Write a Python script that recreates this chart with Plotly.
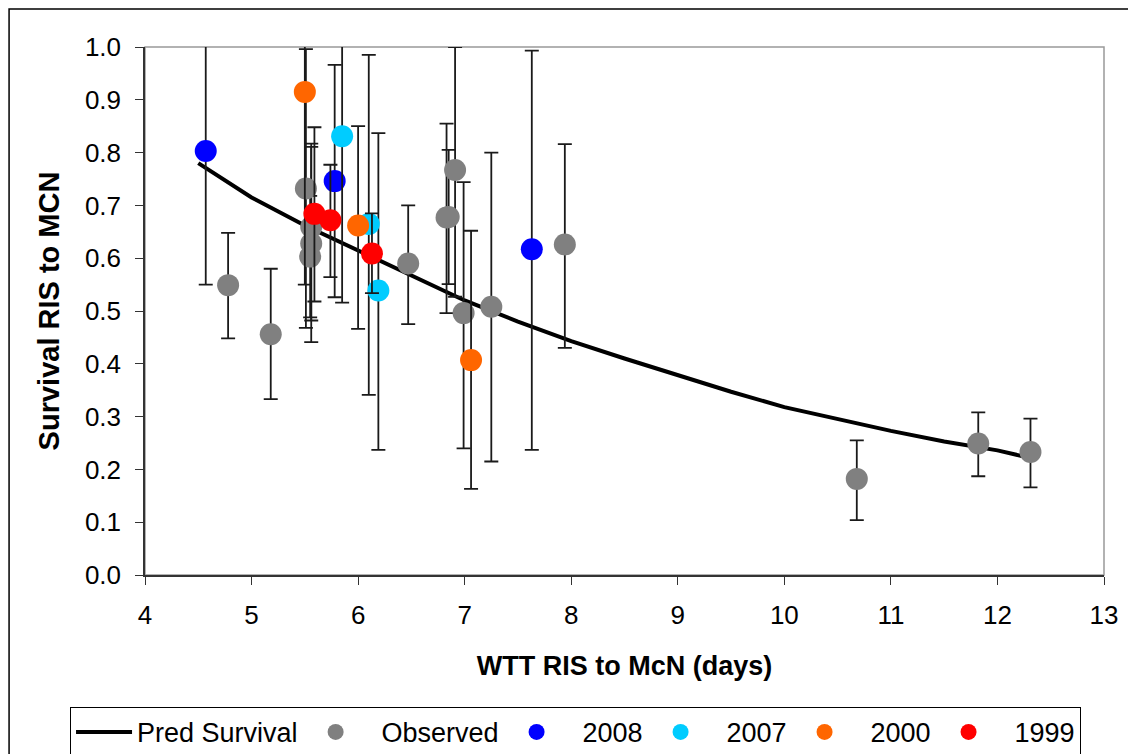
import plotly.graph_objects as go

# ---------------- data ----------------
pred_x = [4.5, 5.0, 5.5, 6.0, 6.5, 7.0, 7.5, 8.0, 8.5, 9.0, 9.5, 10.0, 10.5, 11.0, 11.5, 12.0, 12.3]
pred_y = [0.780, 0.715, 0.662, 0.614, 0.566, 0.520, 0.480, 0.443, 0.410, 0.378, 0.347, 0.318, 0.295, 0.273, 0.253, 0.236, 0.222]

obs_x = [4.78, 5.18, 5.51, 5.56, 5.56, 5.55, 6.47, 6.83, 6.85, 6.91, 6.99, 7.25, 7.94, 10.68, 11.82, 12.31]
obs_y = [0.549, 0.456, 0.732, 0.659, 0.628, 0.603, 0.590, 0.677, 0.678, 0.767, 0.496, 0.508, 0.626, 0.182, 0.249, 0.233]
obs_ep = [0.099, 0.124, 0.264, 0.158, 0.183, 0.115, 0.110, 0.178, 0.127, 0.233, 0.248, 0.292, 0.190, 0.073, 0.059, 0.063]
obs_em = [0.101, 0.123, 0.264, 0.177, 0.187, 0.115, 0.115, 0.181, 0.127, 0.240, 0.256, 0.293, 0.196, 0.078, 0.062, 0.067]

y2008_x = [4.57, 5.78, 7.63]
y2008_y = [0.803, 0.746, 0.617]
y2008_ep = [0.300, 0.220, 0.376]
y2008_em = [0.253, 0.220, 0.380]

y2007_x = [5.85, 6.10, 6.19]
y2007_y = [0.831, 0.665, 0.539]
y2007_ep = [0.250, 0.320, 0.298]
y2007_em = [0.315, 0.324, 0.302]

y2000_x = [5.50, 6.00, 7.06]
y2000_y = [0.915, 0.662, 0.407]
y2000_ep = [0.365, 0.188, 0.245]
y2000_em = [0.365, 0.196, 0.244]

y1999_x = [5.59, 5.74, 6.13]
y1999_y = [0.684, 0.672, 0.609]
y1999_ep = [0.164, 0.105, 0.076]
y1999_em = [0.166, 0.108, 0.075]

x_ticks = [4, 5, 6, 7, 8, 9, 10, 11, 12, 13]
y_ticks = [0.0, 0.1, 0.2, 0.3, 0.4, 0.5, 0.6, 0.7, 0.8, 0.9, 1.0]

FONT = "Liberation Sans, Arial, sans-serif"
ERR_COLOR = "#1a1a1a"
MSIZE = 22
PAD = "\u00a0\u2009"

def err(plus, minus):
    return dict(type="data", symmetric=False, array=plus, arrayminus=minus,
                color=ERR_COLOR, thickness=1.8, width=7)

fig = go.Figure()
fig.add_trace(go.Scatter(x=pred_x, y=pred_y, mode="lines", name="Pred Survival",
                         line=dict(color="black", width=4)))
fig.add_trace(go.Scatter(x=obs_x, y=obs_y, mode="markers", name=PAD + "Observed",
                         marker=dict(color="#808080", size=MSIZE),
                         error_y=err(obs_ep, obs_em)))
for name, xs, ys, ep, em, col in [
    ("2008", y2008_x, y2008_y, y2008_ep, y2008_em, "#0000FF"),
    ("2007", y2007_x, y2007_y, y2007_ep, y2007_em, "#00CCFF"),
    ("2000", y2000_x, y2000_y, y2000_ep, y2000_em, "#FF6600"),
    ("1999", y1999_x, y1999_y, y1999_ep, y1999_em, "#FF0000"),
]:
    fig.add_trace(go.Scatter(x=xs, y=ys, mode="markers", name=PAD + name,
                             marker=dict(color=col, size=MSIZE),
                             error_y=err(ep, em)))

L, R, T, B = 145, 23.5, 46.5, 179
W, H = 1128, 754
pw = W - L - R
ph = H - T - B

def px2paper_x(px):
    return (px - L) / pw

def px2paper_y(py):
    return (H - B - py) / ph

fig.update_layout(
    width=W, height=H,
    margin=dict(l=L, r=R, t=T, b=B, pad=0, autoexpand=False),
    paper_bgcolor="white", plot_bgcolor="white",
    font=dict(family=FONT, color="black"),
    showlegend=True,
    legend=dict(orientation="h", x=px2paper_x(70), xanchor="left",
                y=px2paper_y(707), yanchor="top",
                bordercolor="black", borderwidth=1, bgcolor="white",
                font=dict(family=FONT, size=27, color="black"),
                itemwidth=56, tracegroupgap=0),
    xaxis=dict(range=[4, 13], tickvals=x_ticks, ticks="outside", ticklen=8,
               tickcolor="#333", tickwidth=1, showline=True, linecolor="#333", linewidth=1.5,
               showgrid=False, zeroline=False, automargin=False,
               ticklabelstandoff=8,
               tickfont=dict(size=26, family=FONT),
               title=dict(text="<b>WTT RIS to McN (days)</b>", font=dict(size=27, family=FONT),
                          standoff=27)),
    yaxis=dict(range=[0, 1], tickvals=y_ticks, tickformat=".1f", ticks="outside", ticklen=8,
               tickcolor="#333", tickwidth=1, showline=True, linecolor="#333", linewidth=1.5,
               showgrid=False, zeroline=False, automargin=False,
               ticklabelstandoff=9,
               tickfont=dict(size=26, family=FONT),
               title=dict(text="<b>Survival RIS to MCN</b>", font=dict(size=29, family=FONT),
                          standoff=17)),
    shapes=[
        dict(type="rect", xref="paper", yref="paper", x0=0, x1=1, y0=0, y1=1,
             line=dict(color="#999999", width=1.5), layer="below"),
        dict(type="rect", xref="paper", yref="paper",
             x0=px2paper_x(9), x1=px2paper_x(1140), y0=px2paper_y(800), y1=px2paper_y(8.5),
             line=dict(color="black", width=1.5), layer="below"),
    ],
)

fig.write_html("out.html")
